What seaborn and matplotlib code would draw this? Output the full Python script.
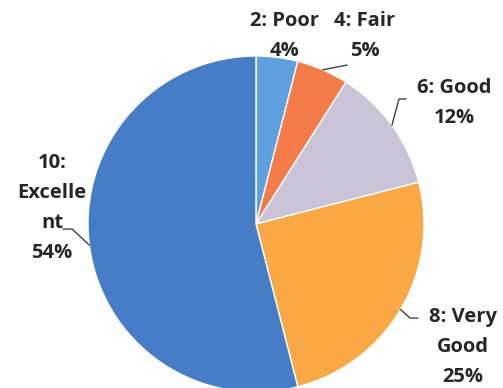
import numpy as np
import seaborn as sns
import matplotlib.pyplot as plt

# Data
labels = ['2: Poor', '4: Fair', '6: Good', '8: Very\nGood', '10:\nExcelle\nnt']
shares = [4, 5, 12, 25, 54]
colors = ['#5FA0E0', '#F47C4A', '#C8C3D6', '#F8A946', '#477DC7']

# label text centres and leader line bends (pie radius units)
label_pos = [(0.167, 1.119), (0.649, 1.119), (1.179, 0.720), (1.232, -0.732), (-1.214, 0.095)]
leaders = [None,
           [(0.542, 0.946)],
           [(0.851, 0.744), (0.893, 0.744)],
           [(0.917, -0.56), (0.964, -0.56)],
           [(-1.095, -0.03), (-1.149, -0.03)]]

sns.set_theme(style='white')
plt.rcParams['font.family'] = ['Open Sans', 'DejaVu Sans']

fig = plt.figure(figsize=(5.03, 3.88), dpi=100)
ax = fig.add_axes([0, 0, 1, 1])

ax.pie(shares, colors=colors, startangle=90, counterclock=False, radius=1,
       wedgeprops={'edgecolor': 'white', 'linewidth': 1})

total = sum(shares)
start = 90.0
for i, (lab, val) in enumerate(zip(labels, shares)):
    pct = 100 * val / total
    mid = np.radians(start - val / total * 180)
    start -= val / total * 360
    tx, ty = label_pos[i]
    ax.text(tx, ty, f'{lab}\n{pct:.0f}%', ha='center', va='center',
            fontsize=14.5, fontweight='bold', color='#262626', linespacing=1.65)
    if leaders[i]:
        pts = [(np.cos(mid), np.sin(mid))] + leaders[i]
        xs, ys = zip(*pts)
        ax.plot(xs, ys, color='#404040', lw=1)

s = 168.0
ax.set_xlim(-256 / s, (503 - 256) / s)
ax.set_ylim(-(388 - 224) / s, 224 / s)
ax.set_aspect('auto')
ax.axis('off')

fig.savefig('out.png', dpi=100)
